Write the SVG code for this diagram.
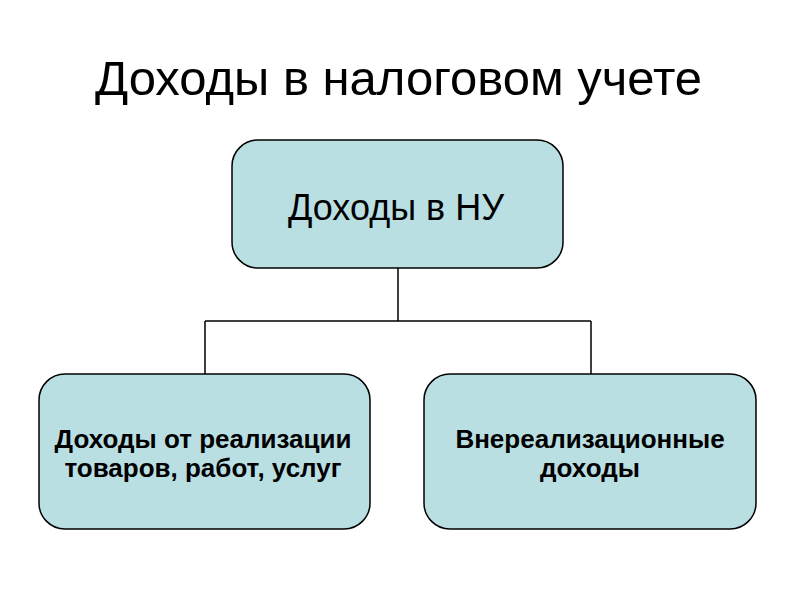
<svg xmlns="http://www.w3.org/2000/svg" width="800" height="600" viewBox="0 0 800 600">
<style>
.box{fill:#BADFE3;stroke:#000;stroke-width:1.5}
.conn{fill:none;stroke:#000;stroke-width:1.5}
text{font-family:"Liberation Sans",Arial,sans-serif;fill:#000;text-anchor:middle}
.title{font-size:49px}
.main{font-size:36px}
.sub{font-size:26px;font-weight:bold}
</style>
<rect width="800" height="600" fill="#fff"/>
<text class="title" x="398.5" y="95">Доходы в налоговом учете</text>
<g id="connectors">
<path class="conn" d="M398 268 V321 M205 321 H591 M205 321 V374 M591 321 V374"/>
</g>
<g id="root">
<rect class="box" x="232" y="140" width="331" height="128" rx="26"/>
<text class="main" x="396" y="220">Доходы в НУ</text>
</g>
<g id="sales">
<rect class="box" x="39" y="374" width="331" height="155" rx="26"/>
<text class="sub" x="203" y="448">Доходы от реализации</text>
<text class="sub" x="203" y="477">товаров, работ, услуг</text>
</g>
<g id="nonsales">
<rect class="box" x="424" y="374" width="332" height="155" rx="26"/>
<text class="sub" x="590" y="448">Внереализационные</text>
<text class="sub" x="590" y="477">доходы</text>
</g>
</svg>
